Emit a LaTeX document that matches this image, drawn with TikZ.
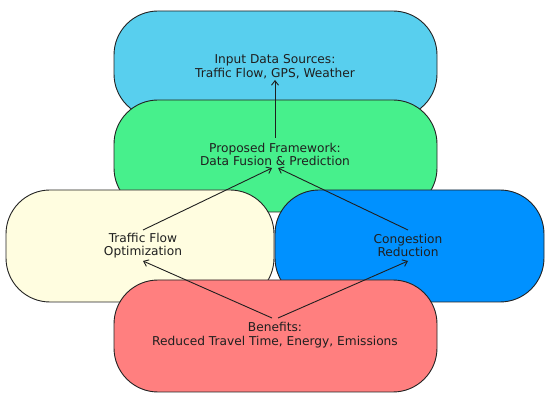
\documentclass[tikz,border=0pt]{standalone}
\usepackage{fontspec}
\setmainfont{DejaVu Sans}
\usetikzlibrary{arrows.meta}
\definecolor{cTop}{HTML}{58CFEE}
\definecolor{cGreen}{HTML}{47F08C}
\definecolor{cYellow}{HTML}{FFFDE0}
\definecolor{cBlue}{HTML}{0091FF}
\definecolor{cRed}{HTML}{FF7F7F}
\definecolor{cEdge}{HTML}{222222}
\begin{document}
\begin{tikzpicture}[x=1pt,y=-1pt,
  box/.style={draw=cEdge,line width=0.9pt,rounded corners=44pt,inner sep=0pt},
  lbl/.style={align=center,font=\fontsize{12.2}{13.5}\selectfont,text=black!88},
  arr/.style={-{Straight Barb[length=4.5pt,width=7pt]},line width=0.9pt,draw=black!88}]
\useasboundingbox (0,0) rectangle (550,401);
\node[box,fill=cTop,minimum width=323pt,minimum height=107pt] (top) at (275.5,64.5) {};
\node[box,fill=cGreen,minimum width=323pt,minimum height=112pt] (mid) at (275.5,156) {};
\node[box,fill=cYellow,minimum width=268pt,minimum height=112pt] (yel) at (140,246) {};
\node[box,fill=cBlue,minimum width=269pt,minimum height=112pt] (blu) at (409.5,246) {};
\node[box,fill=cRed,minimum width=323pt,minimum height=112pt] (red) at (275.5,336) {};
\node[lbl] (ttop) at (275,66.5) {Input Data Sources:\\Traffic Flow, GPS, Weather};
\node[lbl] (tmid) at (275,154.5) {Proposed Framework:\\Data Fusion \& Prediction};
\node[lbl] (tyel) at (143,245.5) {Traffic Flow\\Optimization};
\node[lbl] (tblu) at (408,245.5) {Congestion\\Reduction};
\node[lbl] (tred) at (275,335) {Benefits:\\Reduced Travel Time, Energy, Emissions};
\coordinate (m1) at (275,138);
\coordinate (t1) at (275,80);
\coordinate (m2) at (272,168);
\coordinate (m3) at (278,168);
\coordinate (y1) at (143,230);
\coordinate (y2) at (143,261);
\coordinate (b1) at (408,230);
\coordinate (b2) at (408,261);
\coordinate (r1) at (272,318);
\coordinate (r2) at (278,318);
\draw[arr] (m1) -- (t1);
\draw[arr] (y1) -- (m2);
\draw[arr] (b1) -- (m3);
\draw[arr] (r1) -- (y2);
\draw[arr] (r2) -- (b2);
\end{tikzpicture}
\end{document}
